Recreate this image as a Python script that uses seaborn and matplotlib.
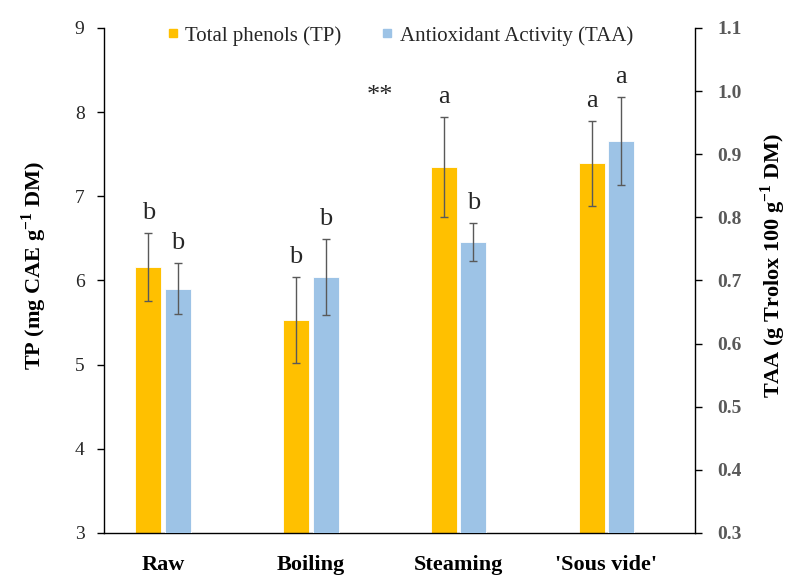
import numpy as np
import pandas as pd
import matplotlib
matplotlib.use("Agg")
import matplotlib.pyplot as plt
import seaborn as sns
from matplotlib.lines import Line2D

# ---- data ----
categories = ["Raw", "Boiling", "Steaming", "'Sous vide'"]
tp_values = [6.16, 5.53, 7.35, 7.39]
tp_errors = [0.40, 0.51, 0.59, 0.50]
taa_values = [0.687, 0.706, 0.761, 0.921]
taa_errors = [0.040, 0.060, 0.030, 0.070]
tp_letters = ["b", "b", "a", "a"]
taa_letters = ["b", "b", "b", "a"]
series_order = ["Total phenols (TP)", "Antioxidant Activity (TAA)", "spacer"]
tp_ticks = [3, 4, 5, 6, 7, 8, 9]
taa_ticks = [0.3, 0.4, 0.5, 0.6, 0.7, 0.8, 0.9, 1.0, 1.1]
significance = "**"

colors = {"Total phenols (TP)": "#FFC000",
          "Antioxidant Activity (TAA)": "#9DC3E6",
          "spacer": "#404040"}

sns.set_theme(style="ticks")
plt.rcParams["font.family"] = ["Liberation Serif", "DejaVu Serif"]
plt.rcParams["mathtext.fontset"] = "custom"
plt.rcParams["mathtext.rm"] = "Liberation Serif"
plt.rcParams["mathtext.bf"] = "Liberation Serif:bold"

df_tp = pd.DataFrame({"cat": categories, "value": tp_values,
                      "series": series_order[0]})
df_taa = pd.DataFrame({"cat": categories, "value": taa_values,
                       "series": series_order[1]})

fig = plt.figure(figsize=(7.9, 5.76), dpi=100)
ax1 = fig.add_axes([0.1316, 0.0747, 0.7481, 0.8767])
ax2 = ax1.twinx()

bar_kw = dict(x="cat", y="value", hue="series", order=categories,
              hue_order=series_order, palette=colors, width=0.6, gap=0.12,
              dodge=True, saturation=1, errorbar=None, legend=False,
              edgecolor="white", linewidth=0.6)
sns.barplot(data=df_tp, ax=ax1, **bar_kw)
sns.barplot(data=df_taa, ax=ax2, **bar_kw)

ax1.set_ylim(3, 9)
ax2.set_ylim(0.3, 1.1)
ax1.set_xlim(-0.5, len(categories) - 0.5)


def centers(ax):
    xs = sorted(p.get_x() + p.get_width() / 2 for p in ax.patches
                if p.get_height() != 0)
    return xs


x_tp = centers(ax1)
x_taa = centers(ax2)

err_kw = dict(fmt="none", ecolor="#595959", elinewidth=1.0, capsize=3,
              capthick=1.0)
ax1.errorbar(x_tp, tp_values, yerr=tp_errors, **err_kw)
ax2.errorbar(x_taa, taa_values, yerr=taa_errors, **err_kw)

for x, v, e, t in zip(x_tp, tp_values, tp_errors, tp_letters):
    ax1.annotate(t, (x, v + e), xytext=(0, 14), textcoords="offset pixels",
                 ha="center", va="baseline", fontsize=19)
for x, v, e, t in zip(x_taa, taa_values, taa_errors, taa_letters):
    ax2.annotate(t, (x, v + e), xytext=(0, 14), textcoords="offset pixels",
                 ha="center", va="baseline", fontsize=19)

ax1.text(1.371, 8.12, significance, ha="center", va="baseline", fontsize=19)

# axes styling
ax1.set_yticks(tp_ticks)
ax1.set_yticklabels([str(t) for t in tp_ticks], fontsize=14, color="#262626")
ax2.set_yticks(taa_ticks)
ax2.set_yticklabels([f"{t:.1f}" for t in taa_ticks], fontsize=14,
                    fontweight="bold", color="#595959")
ax1.tick_params(axis="y", length=5, width=1, color="black", pad=9)
ax2.tick_params(axis="y", length=5, width=1, color="black", pad=11)

ax1.set_xticks(np.arange(len(categories)) - 0.1)
ax1.set_xticklabels(categories, fontsize=16, fontweight="bold", color="black")
ax1.tick_params(axis="x", length=0, pad=16)
ax1.set_xlabel("")
ax2.set_xlabel("")

ax1.set_ylabel(r"TP (mg CAE g$^{\mathbf{-1}}$ DM)", fontsize=16,
               fontweight="bold", color="black")
ax2.set_ylabel(r"TAA (g Trolox 100 g$^{\mathbf{-1}}$ DM)", fontsize=16,
               fontweight="bold", color="black")
ax1.yaxis.set_label_coords(-0.093, 0.53)
ax2.yaxis.set_label_coords(1.107, 0.53)

for s in ["top", "right"]:
    ax1.spines[s].set_visible(False)
for s in ["top", "left", "bottom"]:
    ax2.spines[s].set_visible(False)
for s in ["left", "bottom"]:
    ax1.spines[s].set_color("black")
    ax1.spines[s].set_linewidth(1.0)
ax2.spines["right"].set_color("black")
ax2.spines["right"].set_linewidth(1.0)

handles = [Line2D([], [], marker="s", ls="none", markersize=6,
                  color=colors[series_order[0]]),
           Line2D([], [], marker="s", ls="none", markersize=6,
                  color=colors[series_order[1]])]
fig.legend(handles, series_order[:2], loc="center",
           bbox_to_anchor=(0.506, 0.938), ncol=2, frameon=False,
           fontsize=15, handletextpad=0.3, columnspacing=1.9,
           handlelength=0.6, borderpad=0)

fig.savefig("out.png", dpi=100)
